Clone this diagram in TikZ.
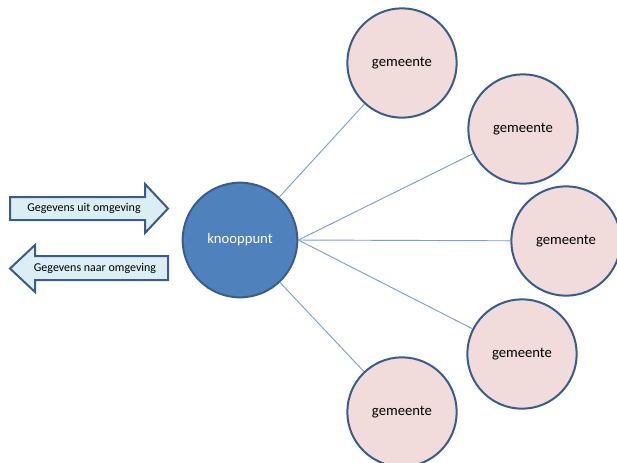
\documentclass[tikz,border=0pt]{standalone}
\usepackage{fontspec}
\setmainfont{Carlito}
\usepackage{tikz}
\usetikzlibrary{positioning}
\definecolor{hubblauw}{RGB}{79,129,189}
\definecolor{randblauw}{RGB}{56,93,138}
\definecolor{gemroze}{RGB}{242,220,219}
\definecolor{pijlblauw}{RGB}{219,238,244}
\tikzset{
  hub/.style={circle,draw=randblauw,line width=1.5pt,fill=hubblauw,text=white,minimum size=86pt,inner sep=0pt,font=\fontsize{11}{13}\selectfont},
  gem/.style={circle,draw=randblauw,line width=1.5pt,fill=gemroze,text=black,minimum size=82pt,inner sep=0pt,font=\fontsize{11}{13}\selectfont},
  link/.style={draw=hubblauw!75,line width=0.7pt},
  pijl/.style={draw=randblauw,line width=1.5pt,fill=pijlblauw,line join=miter},
  pijltekst/.style={inner sep=0pt,font=\fontsize{9}{11}\selectfont}
}
\begin{document}
\begin{tikzpicture}[x=0.75pt,y=-0.75pt]
\useasboundingbox (0,0) rectangle (617,462);
%Cirkels
\node[hub] (K) at (240,240) {knooppunt};
\node[gem] (G1) at (402,63) {gemeente};
\node[gem] (G2) at (523,129) {gemeente};
\node[gem] (G3) at (566,241) {gemeente};
\node[gem] (G4) at (522,354) {gemeente};
\node[gem] (G5) at (402,412) {gemeente};
%Lijnen
\draw[link] (K) -- (G1);
\draw[link] (K.east) -- (G2);
\draw[link] (K.east) -- (G3);
\draw[link] (K.east) -- (G4);
\draw[link] (K) -- (G5);
%Pijlen
\draw[pijl] (10,197) -- (145,197) -- (145,184) -- (168,208.5) -- (145,233) -- (145,220) -- (10,220) -- cycle;
\node[pijltekst] (In) at (84,208.5) {Gegevens uit omgeving};
\draw[pijl] (168,256) -- (35,256) -- (35,245) -- (10,268.5) -- (35,292) -- (35,280) -- (168,280) -- cycle;
\node[pijltekst] (Uit) at (95,268.5) {Gegevens naar omgeving};
\end{tikzpicture}
\end{document}
